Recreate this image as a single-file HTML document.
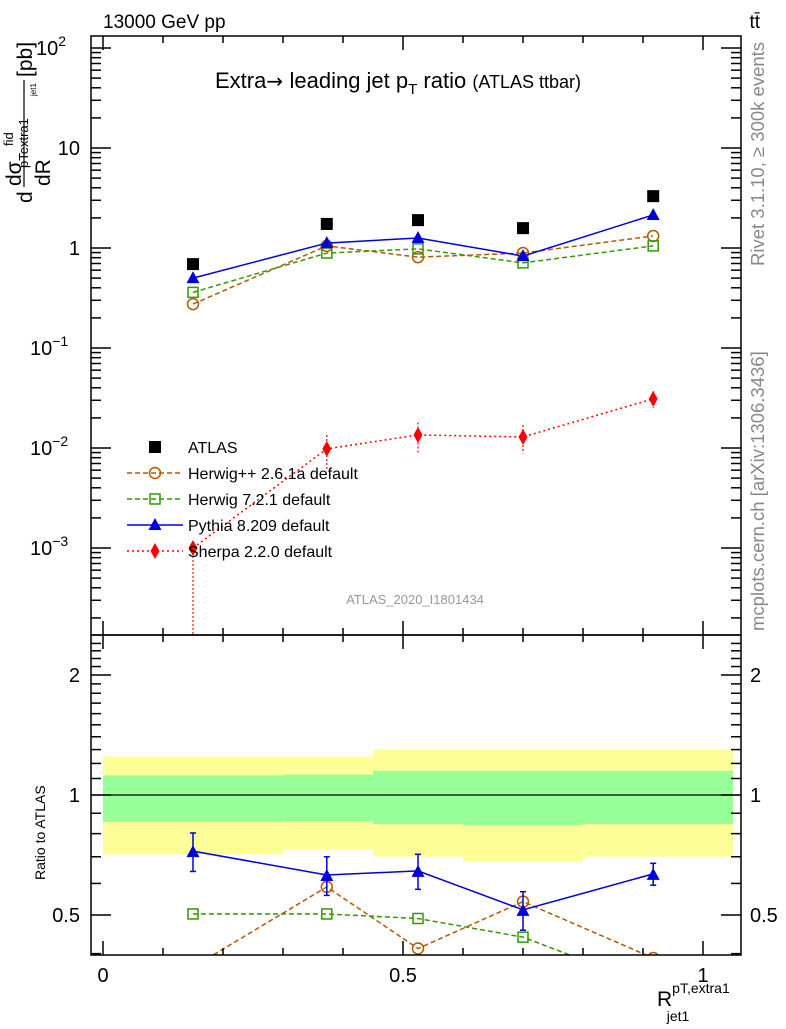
<!DOCTYPE html>
<html><head><meta charset="utf-8"><style>
body{margin:0;background:#fff;}
svg{font-family:"Liberation Sans",sans-serif;}
</style></head><body>
<svg id="c" width="786" height="1024" xmlns="http://www.w3.org/2000/svg">
<rect x="0" y="0" width="786" height="1024" fill="#fff"/>
<g id="bands"></g>
<g id="marks"></g>
<g id="axes" stroke="#000" fill="none" stroke-width="1.5"></g>
<text x="103" y="28" font-size="19">13000 GeV pp</text>
<text x="760" y="28" font-size="19" text-anchor="end">tt̄</text>
<text x="215" y="88" font-size="22">Extra<tspan font-family="DejaVu Sans" font-size="20">→ </tspan>leading jet p<tspan font-size="15" dy="6">T</tspan><tspan dy="-6"> ratio </tspan><tspan font-size="18">(ATLAS ttbar)</tspan></text>
<text x="415" y="604" font-size="13" fill="#999" text-anchor="middle">ATLAS_2020_I1801434</text>
<text transform="translate(764,266) rotate(-90)" font-size="18.5" fill="#888">Rivet 3.1.10, ≥ 300k events</text>
<text transform="translate(764,631) rotate(-90)" font-size="18.5" fill="#888">mcplots.cern.ch [arXiv:1306.3436]</text>
<g font-size="21">
<text transform="translate(32,203) rotate(-90)">d</text>
<text transform="translate(50,186) rotate(-90)">dR</text>
<line x1="24" y1="187" x2="24" y2="80" stroke="#000" stroke-width="1.2"/>
<text transform="translate(21,186) rotate(-90)">dσ</text>
<text transform="translate(13,146) rotate(-90)" font-size="13">fid</text>
<text transform="translate(28,168) rotate(-90)" font-size="13">pTextra1</text>
<text transform="translate(36,96) rotate(-90)" font-size="8">jet1</text>
<text transform="translate(32,77) rotate(-90)">[pb]</text>
</g>
<text transform="translate(45,880) rotate(-90)" font-size="14">Ratio to ATLAS</text>
<text x="657" y="1006" font-size="21">R<tspan font-size="14" dy="-13">pT,extra1</tspan><tspan font-size="14" dx="-63" dy="28">jet1</tspan></text>
<g id="legend" font-size="16"></g>
</svg>
<script>
const xs=[0.15,0.373,0.525,0.70,0.917];
const atlas=[0.69,1.74,1.9,1.58,3.3];
const herwigpp=[0.275,1.05,0.81,0.89,1.32];
const herwig7=[0.36,0.89,0.98,0.71,1.05];
const pythia=[0.5,1.12,1.26,0.83,2.14];
const sherpa=[0.001,0.0098,0.0135,0.0129,0.031];
const sherpaErrHi=[0.0,0.0135,0.018,0.017,0.037];
const ratioHerwigpp=[0.37,0.588,0.412,0.54,0.39];
const ratioHerwig7=[0.503,0.503,0.49,0.44,0.33];
const ratioPythia=[0.723,0.63,0.645,0.515,0.634];
const ratioPythiaErr=[0.08,0.07,0.065,0.057,0.04];
const binEdges=[0,0.3,0.45,0.6,0.8,1.05];
const greenHi=[1.12,1.125,1.15,1.15,1.15];
const greenLo=[0.855,0.86,0.846,0.84,0.846];
const yellowHi=[1.25,1.25,1.30,1.30,1.30];
const yellowLo=[0.71,0.73,0.70,0.68,0.70];
const xTicks=[0,0.5,1];
const xTickLabels=["0","0.5","1"];
const yDecades=[-3,-2,-1,0,1,2];
const yDecLabels=["10","10","10","1","10","10"];
const yDecExp=["−3","−2","−1","","","2"];
const rTicks=[0.5,1,2];
const rTickLabels=["0.5","1","2"];

const NS="http://www.w3.org/2000/svg";
const L=91,R=741,T=36,M=635,B=955;
const X=v=>103+600*v;
const Y=v=>248-100*Math.log10(v);
const YR=r=>795-120*Math.log2(r);
function mk(parent,tag,attrs){const e=document.createElementNS(NS,tag);for(const k in attrs)e.setAttribute(k,attrs[k]);parent.appendChild(e);return e;}
const svg=document.getElementById('c'),marks=document.getElementById('marks'),axes=document.getElementById('axes'),bands=document.getElementById('bands'),leg=document.getElementById('legend');

for(let i=0;i<5;i++){
 const x1=X(binEdges[i]),x2=X(binEdges[i+1]);
 let r=mk(bands,'rect',{x:x1,y:YR(yellowHi[i]),width:x2-x1,height:YR(yellowLo[i])-YR(yellowHi[i]),fill:'#ffff99'});
 
 
 r=mk(bands,'rect',{x:x1,y:YR(greenHi[i]),width:x2-x1,height:YR(greenLo[i])-YR(greenHi[i]),fill:'#99ff99'});
 
 
}
let ref=mk(marks,'line',{x1:L,x2:R,y1:YR(1),y2:YR(1),stroke:'#000','stroke-width':1.2});



function marker(g,type,x,y,col){
 if(type==='sq') mk(g,'rect',{x:x-6,y:y-6,width:12,height:12,fill:col});
 else if(type==='osq') mk(g,'rect',{x:x-5,y:y-5,width:10,height:10,fill:'none',stroke:col,'stroke-width':1.5});
 else if(type==='oc') mk(g,'circle',{cx:x,cy:y,r:5.5,fill:'none',stroke:col,'stroke-width':1.5});
 else if(type==='tri') mk(g,'polygon',{points:`${x},${y-7} ${x-6.5},${y+5} ${x+6.5},${y+5}`,fill:col});
 else if(type==='dia') mk(g,'polygon',{points:`${x},${y-8} ${x-4.5},${y} ${x},${y+8} ${x+4.5},${y}`,fill:col});
}
const clip=mk(svg,'defs',{});
const cp1=mk(clip,'clipPath',{id:'cm'});mk(cp1,'rect',{x:L,y:T,width:R-L,height:M-T});
const cp2=mk(clip,'clipPath',{id:'cr'});mk(cp2,'rect',{x:L,y:M,width:R-L,height:B-M});

function series(name,vals,yf,col,dash,type,clipId,line){
 const g=mk(marks,'g',{'clip-path':`url(#${clipId})`});
 
 
 if(line) mk(g,'polyline',{points:vals.map((v,i)=>X(xs[i])+','+yf(v)).join(' '),fill:'none',stroke:col,'stroke-width':1.5,'stroke-dasharray':dash});
 vals.forEach((v,i)=>marker(g,type,X(xs[i]),yf(v),col));
}
series('atlas-data',atlas,Y,'#000','','sq','cm',false);
series('herwigpp-series',herwigpp,Y,'#b35900','5,3','oc','cm',true);
series('herwig7-series',herwig7,Y,'#339900','5,3','osq','cm',true);
series('pythia-series',pythia,Y,'#0000dd','','tri','cm',true);
(function(){
 const g=mk(marks,'g',{'clip-path':'url(#cm)'});
 
 
 mk(g,'polyline',{points:sherpa.map((v,i)=>X(xs[i])+','+Y(v)).join(' '),fill:'none',stroke:'#f00','stroke-width':1.5,'stroke-dasharray':'2,3'});
 sherpa.forEach((v,i)=>{
  const hi=sherpaErrHi[i]||v*1.1, lo=i===0?1e-6:Math.max(2*v-hi,1e-9);
  mk(g,'line',{x1:X(xs[i]),x2:X(xs[i]),y1:Y(hi),y2:Y(lo),stroke:'#f00','stroke-width':1.2,'stroke-dasharray':'2,2'});
  marker(g,'dia',X(xs[i]),Y(v),'#f00');
 });
})();
series('herwigpp-ratio',ratioHerwigpp,YR,'#b35900','5,3','oc','cr',true);
series('herwig7-ratio',ratioHerwig7,YR,'#339900','5,3','osq','cr',true);
(function(){
 const g=mk(marks,'g',{'clip-path':'url(#cr)'});
 
 
 mk(g,'polyline',{points:ratioPythia.map((v,i)=>X(xs[i])+','+YR(v)).join(' '),fill:'none',stroke:'#0000dd','stroke-width':1.5});
 ratioPythia.forEach((v,i)=>{
  const x=X(xs[i]),y1=YR(v+ratioPythiaErr[i]),y2=YR(v-ratioPythiaErr[i]);
  mk(g,'line',{x1:x,x2:x,y1:y1,y2:y2,stroke:'#0000dd','stroke-width':1.5});
  mk(g,'line',{x1:x-3,x2:x+3,y1:y1,y2:y1,stroke:'#0000dd','stroke-width':1.5});
  mk(g,'line',{x1:x-3,x2:x+3,y1:y2,y2:y2,stroke:'#0000dd','stroke-width':1.5});
  marker(g,'tri',x,YR(v)+1,'#0000dd');
 });
})();

mk(axes,'rect',{x:L,y:T,width:R-L,height:M-T});
mk(axes,'rect',{x:L,y:M,width:R-L,height:B-M});
for(let v=0;v<=1.05;v+=0.1){
 const x=X(v),maj=Math.abs(v*2-Math.round(v*2))<1e-6;
 const len=maj?14:7;
 [T,M].forEach(y0=>mk(axes,'line',{x1:x,x2:x,y1:y0,y2:y0+len}));
 [M,B].forEach(y0=>mk(axes,'line',{x1:x,x2:x,y1:y0,y2:y0-len}));
}
xTicks.forEach((v,i)=>{const t=mk(svg,'text',{x:X(v),y:982,'font-size':20,'text-anchor':'middle'});t.textContent=xTickLabels[i];
 
 });
for(let d=-4;d<=2;d++){for(let m=1;m<10;m++){const v=m*Math.pow(10,d);const y=Y(v);if(y<T||y>M)continue;const len=m===1?20:10;
 mk(axes,'line',{x1:L,x2:L+len,y1:y,y2:y});mk(axes,'line',{x1:R,x2:R-len,y1:y,y2:y});}}
yDecades.forEach((d,i)=>{
 const t=mk(svg,'text',{x:80,y:Y(Math.pow(10,d))+7,'font-size':20,'text-anchor':'end'});
 
 
 if(yDecExp[i]===''){t.textContent=d===0?'1':yDecLabels[i];}
 else{t.textContent=yDecLabels[i];const s=mk(t,'tspan',{dy:-9,'font-size':14});s.textContent=yDecExp[i];t.setAttribute('text-anchor','start');t.setAttribute('x',d===2?36:30);}
});
for(let r=0.4;r<=2.5;r+=0.1){const y=YR(r);if(y<M||y>B)continue;const maj=[0.5,1,2].some(q=>Math.abs(q-r)<1e-6);const len=maj?20:10;
 mk(axes,'line',{x1:L,x2:L+len,y1:y,y2:y});mk(axes,'line',{x1:R,x2:R-len,y1:y,y2:y});}
rTicks.forEach((r,i)=>{[[80,'end'],[750,'start']].forEach(([x,a])=>{const t=mk(svg,'text',{x:x,y:YR(r)+7,'font-size':20,'text-anchor':a});t.textContent=rTickLabels[i];
 
 });});

const legItems=[['ATLAS','#000','','sq',false],['Herwig++ 2.6.1a default','#b35900','5,3','oc',true],['Herwig 7.2.1 default','#339900','5,3','osq',true],['Pythia 8.209 default','#0000dd','','tri',true],['Sherpa 2.2.0 default','#f00','2,3','dia',true]];
legItems.forEach((it,i)=>{
 const y=447+26*i;
 const g=mk(leg,'g',{});
 
 
 if(it[4]) mk(g,'line',{x1:127,x2:183,y1:y,y2:y,stroke:it[1],'stroke-width':1.5,'stroke-dasharray':it[2]});
 marker(g,it[3],155,y,it[1]);
 const t=mk(g,'text',{x:188,y:y+6});t.textContent=it[0];
});
</script>
</body></html>
